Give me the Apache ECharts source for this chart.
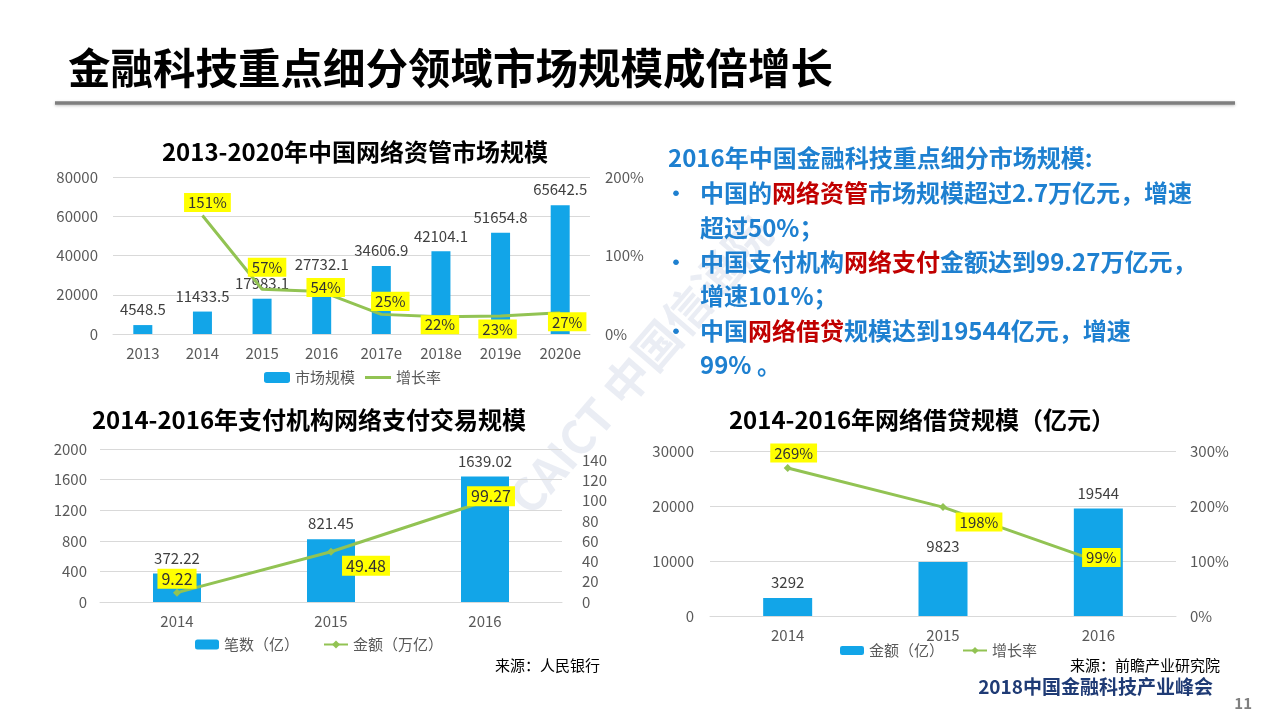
<!DOCTYPE html>
<html>
<head>
<meta charset="utf-8">
<script src="https://cdn.jsdelivr.net/npm/echarts@6/dist/echarts.min.js"></script>
<style>
html, body { margin: 0; padding: 0; background: #fff; }
.layer { position: absolute; left: 0; top: 0; width: 1280px; height: 720px; }
</style>
</head>
<body>
<div id="bg" class="layer"></div>
<div id="c1" class="layer"></div>
<div id="c2" class="layer"></div>
<div id="c3" class="layer"></div>
<script>
// 网络资管市场规模 2013-2020
const amYears = ['2013', '2014', '2015', '2016', '2017e', '2018e', '2019e', '2020e'];
const amScale = [4548.5, 11433.5, 17983.1, 27732.1, 34606.9, 42104.1, 51654.8, 65642.5];
const amGrowth = ['-', 151, 57, 54, 25, 22, 23, 27];
const amLeftTicks = [0, 80000, 20000];
const amRightTicks = [0, 200, 100];

// 支付机构网络支付
const payYears = ['2014', '2015', '2016'];
const payCount = [372.22, 821.45, 1639.02];
const payAmount = [9.22, 49.48, 99.27];

// 网络借贷
const loanYears = ['2014', '2015', '2016'];
const loanAmount = [3292, 9823, 19544];
const loanGrowth = [269, 198, 99];

// yellow tag offsets (layout only)
const amTagOffset = [null, [5, -13], [5, -22], [4, -4], [9, -13], [-1, 8], [-3, 13], [7, 9]];
const payTagOffset = [[0, -14], [35, 14], [6, -5]];
const loanTagOffset = [[6, -15], [36, 15], [3, -4]];

const FONT = '"Microsoft YaHei", "Noto Sans CJK SC", sans-serif';
const BLUE = '#12a5e8';
const GREEN = '#92c353';
const GRIDC = '#d9d9d9';
const LABC = '#595959';

function tagged(values, offsets, suffix, fs) {
	return values.map((v, i) => {
		if (v === '-') return v;
		return {
			value: v,
			label: {
				show: true,
				position: 'inside',
				offset: offsets[i],
				formatter: '{c}' + suffix,
				backgroundColor: '#ffff00',
				padding: [3, 4, 1, 4],
				color: '#333',
				fontSize: fs,
				fontFamily: FONT
			}
		};
	});
}

function catAxis(cats, fs) {
	return {
		type: 'category',
		data: cats,
		axisLine: { lineStyle: { color: GRIDC } },
		axisTick: { show: false },
		axisLabel: { interval: 0, color: LABC, fontSize: fs, margin: 12, fontFamily: FONT }
	};
}

function valAxis(min, max, interval, margin, fmt, grid) {
	return {
		type: 'value',
		min: min,
		max: max,
		interval: interval,
		axisLine: { show: false },
		axisTick: { show: false },
		splitLine: { show: grid, lineStyle: { color: GRIDC } },
		axisLabel: { color: LABC, fontSize: 15, margin: margin, formatter: fmt, fontFamily: FONT }
	};
}

const plainNum = v => String(v);
const pctNum = v => v + '%';

function barLabel() {
	return { show: true, position: 'top', distance: 8, color: '#404040', fontSize: 15, fontFamily: FONT };
}

// 背景文字
const bg = echarts.init(document.getElementById('bg'));
const bulletStyle = { fontWeight: 'bold', fontSize: 24, fontFamily: FONT };
function richLine(parts, x, y) {
	return {
		type: 'text',
		style: {
			x: x, y: y,
			text: parts.map((p, i) => (i % 2 ? '{r|' + p + '}' : '{b|' + p + '}')).join(''),
			textVerticalAlign: 'middle',
			rich: {
				b: Object.assign({ fill: '#1e80d0', color: '#1e80d0' }, bulletStyle),
				r: Object.assign({ fill: '#c00000', color: '#c00000' }, bulletStyle)
			}
		}
	};
}
function plain(text, x, y, font, fill, align) {
	return {
		type: 'text',
		style: { text: text, x: x, y: y, font: font, fill: fill, textAlign: align || 'left', textVerticalAlign: 'middle' }
	};
}
bg.setOption({
	graphic: [
		{
			type: 'text', x: 640, y: 365, rotation: 0.86,
			style: { text: 'CAICT 中国信通院', font: 'bold 46px ' + FONT, fill: 'rgba(160,175,205,0.22)', textAlign: 'center', textVerticalAlign: 'middle' }
		},
		plain('金融科技重点细分领域市场规模成倍增长', 68, 68, 'bold 42.5px ' + FONT, '#000'),
		{
			type: 'line', shape: { x1: 55, y1: 103, x2: 1235, y2: 103 },
			style: { stroke: '#7f7f7f', lineWidth: 3.5, shadowBlur: 3, shadowOffsetY: 1, shadowColor: 'rgba(0,0,0,0.25)' }
		},
		plain('2013-2020年中国网络资管市场规模', 355, 152, 'bold 24px ' + FONT, '#000', 'center'),
		plain('2014-2016年支付机构网络支付交易规模', 309, 420, 'bold 24px ' + FONT, '#000', 'center'),
		plain('2014-2016年网络借贷规模（亿元）', 922, 420, 'bold 24px ' + FONT, '#000', 'center'),
		plain('2016年中国金融科技重点细分市场规模:', 668, 158, 'bold 24px ' + FONT, '#1e80d0'),
		plain('•', 676, 193, 'bold 22px ' + FONT, '#1e80d0', 'center'),
		richLine(['中国的', '网络资管', '市场规模超过2.7万亿元，增速'], 700, 193),
		richLine(['超过50%；'], 700, 228),
		plain('•', 676, 262, 'bold 22px ' + FONT, '#1e80d0', 'center'),
		richLine(['中国支付机构', '网络支付', '金额达到99.27万亿元，'], 700, 262),
		richLine(['增速101%；'], 700, 296),
		plain('•', 676, 331, 'bold 22px ' + FONT, '#1e80d0', 'center'),
		richLine(['中国', '网络借贷', '规模达到19544亿元，增速'], 700, 331),
		richLine(['99% 。'], 700, 365),
		plain('来源：人民银行', 600, 665, '15px ' + FONT, '#000', 'right'),
		plain('来源：前瞻产业研究院', 1220, 665, '15px ' + FONT, '#000', 'right'),
		plain('2018中国金融科技产业峰会', 1213, 687, 'bold 19px ' + FONT, '#1f3b75', 'right'),
		plain('11', 1252, 703, 'bold 15px ' + FONT, '#7f7f7f', 'right')
	]
});

// 图1 网络资管
const c1 = echarts.init(document.getElementById('c1'));
c1.setOption({
	textStyle: { fontFamily: FONT },
	legend: [
		{
			left: 259, top: 365, itemWidth: 26, itemHeight: 11,
			textStyle: { fontSize: 15, color: LABC },
			data: ['市场规模']
		},
		{
			left: 360, top: 365, itemWidth: 26, itemHeight: 3,
			textStyle: { fontSize: 15, color: LABC },
			data: [{ name: '增长率', icon: 'rect' }]
		}
	],
	grid: { left: 113, right: 690, top: 177, bottom: 386, outerBoundsMode: 'none' },
	xAxis: catAxis(amYears, 15),
	yAxis: [
		valAxis(amLeftTicks[0], amLeftTicks[1], amLeftTicks[2], 15, plainNum, true),
		valAxis(amRightTicks[0], amRightTicks[1], amRightTicks[2], 15, pctNum, false)
	],
	series: [
		{ name: '市场规模', type: 'bar', barWidth: 19, itemStyle: { color: BLUE }, label: barLabel(), data: amScale },
		{
			name: '增长率', type: 'line', yAxisIndex: 1, symbol: 'circle', symbolSize: 0,
			lineStyle: { color: GREEN, width: 3 }, itemStyle: { color: GREEN },
			data: tagged(amGrowth, amTagOffset, '%', 15)
		}
	]
});

// 图2 网络支付
const c2 = echarts.init(document.getElementById('c2'));
c2.setOption({
	textStyle: { fontFamily: FONT },
	legend: {
		left: 190, top: 632, itemWidth: 24, itemHeight: 10, itemGap: 24,
		textStyle: { fontSize: 15, color: LABC },
		data: ['笔数（亿）', '金额（万亿）']
	},
	grid: { left: 100, right: 718, top: 449, bottom: 118, outerBoundsMode: 'none' },
	xAxis: catAxis(payYears, 15),
	yAxis: [
		valAxis(0, 2000, 400, 13, plainNum, true),
		valAxis(0, 150.8, 20, 20, v => (v % 20 === 0 ? String(v) : ''), false)
	],
	series: [
		{ name: '笔数（亿）', type: 'bar', barWidth: 48, itemStyle: { color: BLUE }, label: barLabel(), data: payCount },
		{
			name: '金额（万亿）', type: 'line', yAxisIndex: 1, symbol: 'diamond', symbolSize: 8,
			lineStyle: { color: GREEN, width: 3 }, itemStyle: { color: GREEN },
			data: tagged(payAmount, payTagOffset, '', 16)
		}
	]
});

// 图3 网络借贷
const c3 = echarts.init(document.getElementById('c3'));
c3.setOption({
	textStyle: { fontFamily: FONT },
	legend: {
		left: 835, top: 638, itemWidth: 24, itemHeight: 9, itemGap: 18,
		textStyle: { fontSize: 15, color: LABC },
		data: ['金额（亿）', '增长率']
	},
	grid: { left: 710, right: 104, top: 451, bottom: 104, outerBoundsMode: 'none' },
	xAxis: catAxis(loanYears, 15),
	yAxis: [
		valAxis(0, 30000, 10000, 16, plainNum, true),
		valAxis(0, 300, 100, 14, pctNum, false)
	],
	series: [
		{ name: '金额（亿）', type: 'bar', barWidth: 49, itemStyle: { color: BLUE }, label: barLabel(), data: loanAmount },
		{
			name: '增长率', type: 'line', yAxisIndex: 1, symbol: 'diamond', symbolSize: 8,
			lineStyle: { color: GREEN, width: 3 }, itemStyle: { color: GREEN },
			data: tagged(loanGrowth, loanTagOffset, '%', 15)
		}
	]
});
</script>
</body>
</html>
